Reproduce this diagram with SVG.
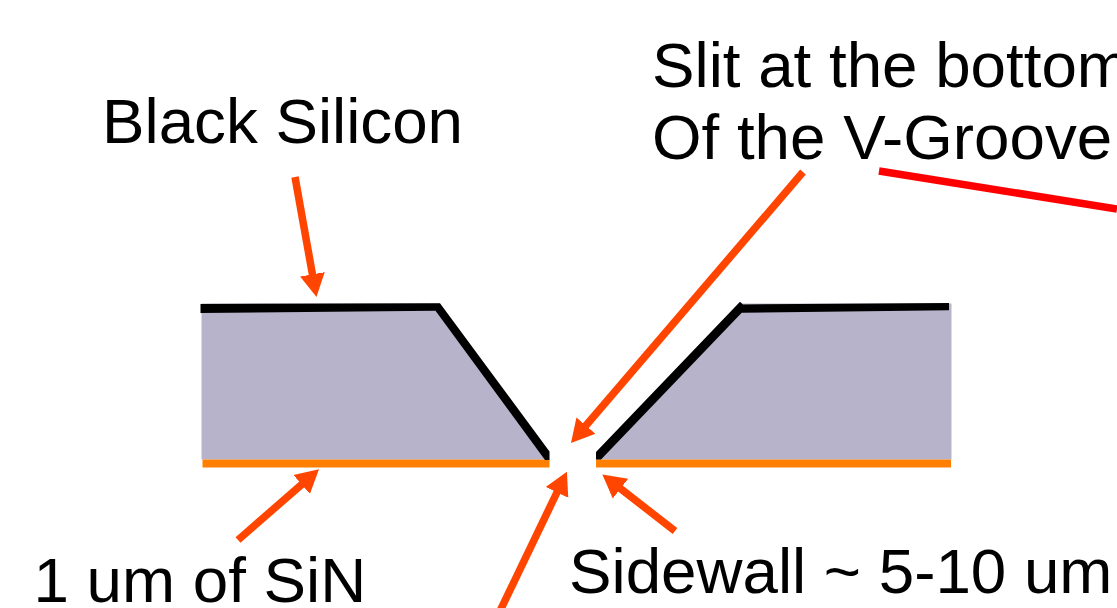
<svg xmlns="http://www.w3.org/2000/svg" width="1117" height="608" viewBox="0 0 1117 608">
<defs>
<marker id="a" markerUnits="userSpaceOnUse" markerWidth="24" markerHeight="28" refX="1" refY="14" orient="auto"><path d="M0 1.5L23 14L0 26.5Z" fill="#ff4500"/></marker>
</defs>
<style>
text{font-family:"Liberation Sans",Arial,sans-serif;font-size:63.7px;fill:#000}
.c{stroke:#ff4500;stroke-width:7.5;fill:none;marker-end:url(#a)}
.k{fill:#000}
.o{fill:#ff8000}
.b{fill:#b6b3ca}
</style>
<rect width="1117" height="608" fill="#fff"/>
<g id="left-block">
<path class="b" d="M201.5 303.5H439L549 452V459.5H201.5Z"/>
<path class="o" d="M202.5 459.5H549.5V467.5H202.5Z"/>
<path class="k" d="M200.5 304L440 303.3L549.5 451.5V460H545L435.5 310.7L200.5 313Z"/>
</g>
<g id="right-block">
<path class="b" d="M741 303.5H951.5V459.5H597V452Z"/>
<path class="o" d="M596 459.5H951V467.5H596Z"/>
<path class="k" d="M596 452L740 301.7L743 304.5L949 303V310.3L741.7 312.7L601 459.5H596Z"/>
</g>
<g id="connectors">
<path class="c" d="M295 177L312.6 275.3"/>
<path class="c" d="M803 172L585.3 426.3"/>
<path class="c" d="M238 540L302.4 483.8"/>
<path class="c" d="M675 531L619.7 488"/>
<path class="c" d="M500 611L557.4 491.5"/>
<path d="M879 171L1117 209" stroke="#f00" stroke-width="7.5" fill="none"/>
</g>
<g id="labels">
<text x="102" y="142.5">Black Silicon</text>
<text x="652" y="86.5">Slit at the bottom</text>
<text x="652" y="158.5">Of the V-Groove</text>
<text x="33.5" y="602">1 um of SiN</text>
<text x="569" y="593">Sidewall ~ 5-10 um</text>
</g>
</svg>
